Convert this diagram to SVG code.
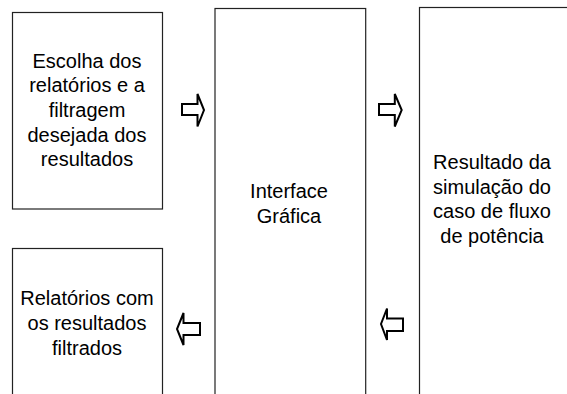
<svg xmlns="http://www.w3.org/2000/svg" width="567" height="394" viewBox="0 0 567 394">
<style>
.box{fill:#fff;stroke:#222;stroke-width:1.2}
.t{font-family:"Liberation Sans",Arial,sans-serif;font-size:20px;fill:#000;text-anchor:middle}
.arr{fill:#fff;stroke:#000;stroke-width:2;stroke-linejoin:miter}
</style>
<rect width="567" height="394" fill="#fff"/>
<g id="n1">
<rect class="box" x="12.5" y="12.5" width="150" height="196.5"/>
<text class="t"><tspan x="87" y="67.5">Escolha dos</tspan><tspan x="87" y="92">relatórios e a</tspan><tspan x="87" y="116.8">filtragem</tspan><tspan x="87" y="141.5">desejada dos</tspan><tspan x="87" y="166.3">resultados</tspan></text>
</g>
<g id="n2">
<rect class="box" x="215" y="8.5" width="150.7" height="395"/>
<text class="t"><tspan x="289" y="198.3">Interface</tspan><tspan x="289" y="223.3">Gráfica</tspan></text>
</g>
<g id="n3">
<rect class="box" x="419.5" y="7.5" width="170" height="395"/>
<text class="t"><tspan x="492" y="169">Resultado da</tspan><tspan x="492" y="193.5">simulação do</tspan><tspan x="492" y="218">caso de fluxo</tspan><tspan x="492" y="242.5">de potência</tspan></text>
</g>
<g id="n4">
<rect class="box" x="12.5" y="248.5" width="150" height="150"/>
<text class="t"><tspan x="87" y="305">Relatórios com</tspan><tspan x="87" y="330">os resultados</tspan><tspan x="87" y="354.5">filtrados</tspan></text>
</g>
<g id="connectors">
<polygon class="arr" points="182,104 197.5,104 197.5,94 204,110 197.5,126.5 197.5,115 182,115"/>
<polygon class="arr" points="379,104 394.8,104 394.8,94 401.7,110 394.8,126.5 394.8,115 379,115"/>
<polygon class="arr" points="200,323 183.5,323 183.5,313 177,329 183.5,345 183.5,335 200,335"/>
<polygon class="arr" points="403,318.5 387,318.5 387,308.5 381,324 387,340 387,331 403,331"/>
</g>
</svg>
